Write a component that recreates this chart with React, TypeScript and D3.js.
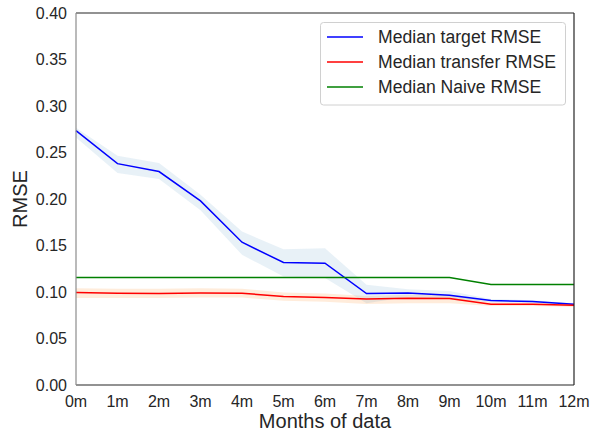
import React from "react";
import * as d3 from "d3";

const months = ["0m", "1m", "2m", "3m", "4m", "5m", "6m", "7m", "8m", "9m", "10m", "11m", "12m"];
const targetMedian = [0.2735, 0.238, 0.2295, 0.198, 0.1535, 0.1317, 0.131, 0.0983, 0.099, 0.0966, 0.0908, 0.0897, 0.0869];
const targetLower = [0.266, 0.228, 0.2214, 0.188, 0.140, 0.1166, 0.115, 0.088, 0.095, 0.093, 0.089, 0.0885, 0.086];
const targetUpper = [0.2767, 0.2466, 0.2387, 0.2046, 0.165, 0.146, 0.147, 0.1077, 0.103, 0.101, 0.0925, 0.091, 0.088];
const transferMedian = [0.0994, 0.0987, 0.0985, 0.099, 0.0987, 0.0951, 0.094, 0.0926, 0.0933, 0.093, 0.0869, 0.0869, 0.0858];
const transferLower = [0.0935, 0.0935, 0.0935, 0.094, 0.094, 0.0905, 0.0895, 0.087, 0.088, 0.088, 0.085, 0.085, 0.084];
const transferUpper = [0.104, 0.1035, 0.1035, 0.104, 0.1035, 0.0995, 0.0985, 0.0958, 0.097, 0.097, 0.089, 0.0885, 0.0875];
const naiveMedian = [0.1155, 0.1155, 0.1155, 0.1155, 0.1155, 0.1155, 0.1155, 0.1155, 0.1155, 0.1155, 0.108, 0.108, 0.108];
const yTicks = [0, 0.05, 0.1, 0.15, 0.2, 0.25, 0.3, 0.35, 0.4];
const legendLabels = ["Median target RMSE", "Median transfer RMSE", "Median Naive RMSE"];

const W = 593;
const H = 436;
const margin = { left: 76, right: 19, top: 13, bottom: 51 };
const FONT = "'Liberation Sans', Arial, sans-serif";
const TEXT = "#262626";

export default function App() {
  const x = d3.scaleLinear().domain([0, months.length - 1]).range([margin.left, W - margin.right]);
  const y = d3.scaleLinear().domain([0, 0.4]).range([H - margin.bottom, margin.top]);

  const line = d3
    .line<number>()
    .x((_, i) => x(i))
    .y((d) => y(d));

  const band = (lo: number[], hi: number[]) =>
    d3
      .area<number>()
      .x((_, i) => x(i))
      .y0((_, i) => y(lo[i]))
      .y1((_, i) => y(hi[i]))(lo) || "";

  const series = [
    { values: targetMedian, color: "#0000ff" },
    { values: transferMedian, color: "#ff0000" },
    { values: naiveMedian, color: "#008000" },
  ];

  const x0 = margin.left;
  const x1 = W - margin.right;
  const y0 = H - margin.bottom;
  const y1 = margin.top;

  return (
    <svg width={W} height={H} style={{ position: "absolute", left: 0, top: 0, background: "#fff" }} fontFamily={FONT}>
      <rect width={W} height={H} fill="#fff" />
      <path d={band(transferLower, transferUpper)} fill="#ff7f0e" fillOpacity={0.15} stroke="none" />
      <path d={band(targetLower, targetUpper)} fill="#1f77b4" fillOpacity={0.1} stroke="none" />
      {series.map((s, i) => (
        <path key={i} d={line(s.values) || ""} fill="none" stroke={s.color} strokeWidth={1.5} />
      ))}

      {/* frame */}
      <line x1={x0} x2={x1} y1={y1} y2={y1} stroke={TEXT} strokeWidth={1.2} />
      <line x1={x0} x2={x1} y1={y0} y2={y0} stroke={TEXT} strokeWidth={1.2} />
      <line x1={x1} x2={x1} y1={y1} y2={y0} stroke={TEXT} strokeWidth={1.2} />
      <line x1={x0} x2={x0} y1={y1} y2={y0} stroke="#8c8c8c" strokeWidth={1.2} />

      {/* y axis */}
      {yTicks.map((t) => (
        <text key={t} x={x0 - 9} y={y(t)} dy="0.36em" textAnchor="end" fontSize={16} fill={TEXT}>
          {t.toFixed(2)}
        </text>
      ))}
      <text
        transform={`translate(27, ${(y0 + y1) / 2}) rotate(-90)`}
        textAnchor="middle"
        fontSize={20}
        fill={TEXT}
      >
        RMSE
      </text>

      {/* x axis */}
      {months.map((m, i) => (
        <text key={m} x={x(i)} y={y0 + 21.5} textAnchor="middle" fontSize={16} fill={TEXT}>
          {m}
        </text>
      ))}
      <text x={(x0 + x1) / 2} y={H - 8} textAnchor="middle" fontSize={20} fill={TEXT}>
        Months of data
      </text>

      {/* legend */}
      <rect x={320.5} y={22.5} width={245} height={82.5} rx={3} fill="#fff" fillOpacity={0.8} stroke="#d0d0d0" />
      {legendLabels.map((label, i) => (
        <g key={label} transform={`translate(0, ${37 + i * 25})`}>
          <line x1={327} x2={363} y1={0} y2={0} stroke={series[i].color} strokeWidth={1.5} />
          <text x={378} y={0} dy="0.36em" fontSize={17.6} fill={TEXT}>
            {label}
          </text>
        </g>
      ))}
    </svg>
  );
}
